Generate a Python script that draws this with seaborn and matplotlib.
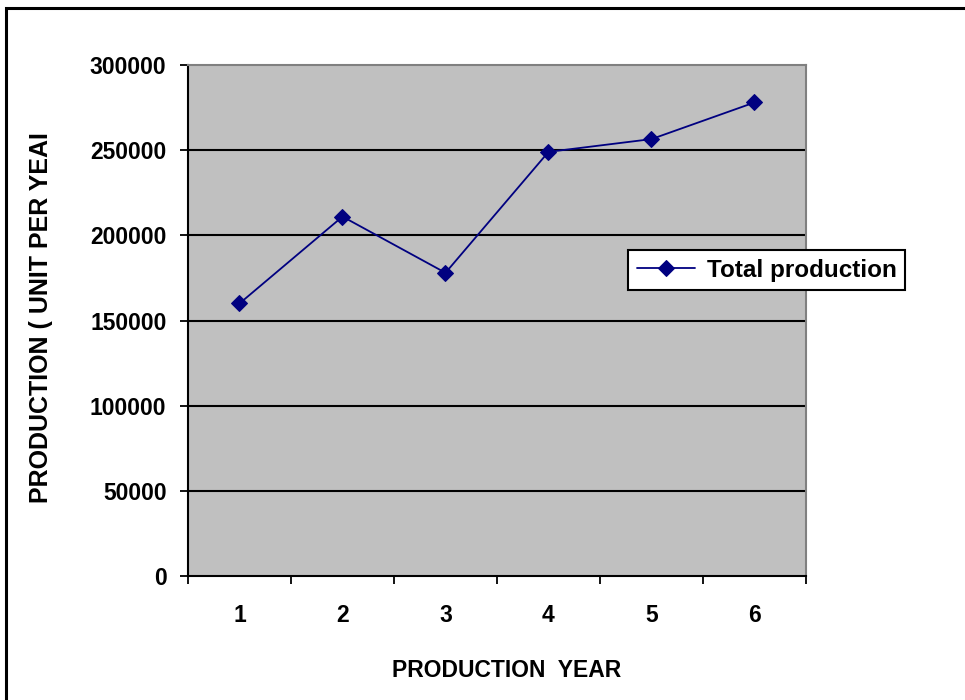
import matplotlib
matplotlib.use("Agg")
import matplotlib.pyplot as plt
import matplotlib.patches as mpatches
import pandas as pd
import seaborn as sns

# values
years = [1, 2, 3, 4, 5, 6]
total_production = [160000, 211000, 178000, 249000, 256500, 278000]
y_ticks = [0, 50000, 100000, 150000, 200000, 250000, 300000]

df = pd.DataFrame({"year": years, "production": total_production})

sns.set_theme(style="white")
plt.rcParams["font.family"] = ["Liberation Sans", "DejaVu Sans"]
plt.rcParams["font.weight"] = "bold"
for key in ["text.color", "axes.labelcolor", "xtick.color", "ytick.color"]:
    plt.rcParams[key] = "black"

fig = plt.figure(figsize=(9.65, 7), dpi=100)
ax = fig.add_axes([188 / 965, 124 / 700, 618 / 965, 511 / 700])
ax.set_facecolor("#c0c0c0")

sns.lineplot(data=df, x="year", y="production", ax=ax, color="#000080",
             marker="D", markersize=8, markeredgecolor="#000080",
             linewidth=1.3, label="Total production")

ax.set_xlim(0.5, 6.5)
ax.set_ylim(0, 300000)
ax.set_yticks(y_ticks)
ax.set_yticklabels([str(v) for v in y_ticks], fontsize=16.5, fontweight="bold")
for v in y_ticks[1:-1]:
    ax.axhline(v, color="black", lw=1.5, zorder=1)

# category boundaries get the tick marks, centres get the labels
ax.set_xticks([x - 0.5 for x in years] + [6.5])
ax.set_xticklabels([])
ax.set_xticks(years, minor=True)
ax.set_xticklabels([str(y) for y in years], minor=True, fontsize=16.5, fontweight="bold")
ax.tick_params(axis="x", which="major", direction="out", length=6, width=1.3, color="black", bottom=True)
ax.tick_params(axis="x", which="minor", length=0, pad=20)
ax.tick_params(axis="y", direction="out", length=6, width=1.3, color="black", left=True, pad=9.5)

for side in ["left", "bottom"]:
    ax.spines[side].set_color("black")
    ax.spines[side].set_linewidth(1.5)
for side in ["top", "right"]:
    ax.spines[side].set_color("#808080")
    ax.spines[side].set_linewidth(1.5)

ax.set_xlabel("PRODUCTION  YEAR", fontsize=16.5, fontweight="bold")
ax.xaxis.set_label_coords(0.515, -0.163)
ax.set_ylabel("PRODUCTION ( UNIT PER YEAI", fontsize=18, fontweight="bold")
ax.yaxis.set_label_coords(-0.218, 0.505)

leg = ax.legend(loc="upper left", bbox_to_anchor=(628 / 965, 1 - 250 / 700),
                bbox_transform=fig.transFigure, borderaxespad=0, fancybox=False,
                framealpha=1, edgecolor="black", fontsize=17.5, handlelength=2.4,
                handletextpad=0.5, borderpad=0.35)
for t in leg.get_texts():
    t.set_fontweight("bold")
leg.get_frame().set_linewidth(1.5)

# outer chart frame (cut off at right and bottom like the reference)
fig.patches.append(mpatches.Rectangle((6 / 965, -0.1), 2, 1.1 - 8 / 700,
                                      transform=fig.transFigure, fill=False,
                                      edgecolor="black", lw=2.2))

fig.savefig("out.png", dpi=100)
